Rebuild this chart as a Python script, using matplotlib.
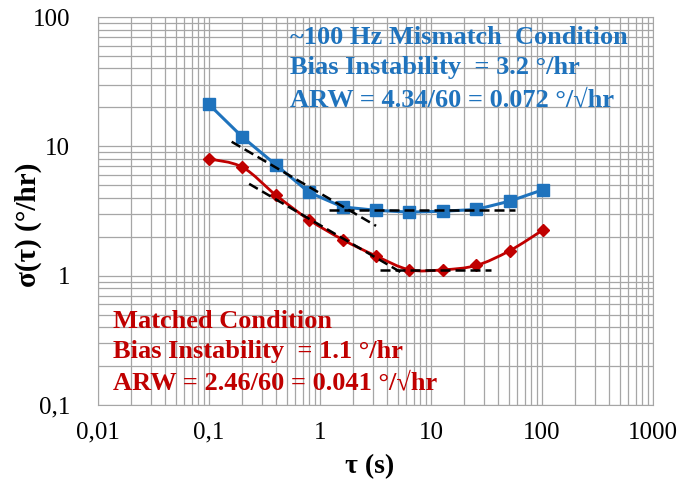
import numpy as np
import matplotlib.pyplot as plt
from matplotlib.path import Path
from matplotlib.patches import PathPatch
from matplotlib.ticker import FixedLocator, FixedFormatter, LogLocator, NullFormatter

plt.rcParams['font.family'] = ['Liberation Serif', 'DejaVu Serif']

# Allan deviation, tau in seconds, sigma in deg/hr
tau = [0.1, 0.2, 0.4, 0.8, 1.6, 3.2, 6.4, 12.8, 25.6, 51.2, 102.4]
sigma_mismatch = [21.1, 11.8, 7.2, 4.4, 3.4, 3.2, 3.1, 3.15, 3.25, 3.77, 4.62]
sigma_matched = [8.0, 6.9, 4.2, 2.7, 1.9, 1.42, 1.11, 1.11, 1.2, 1.56, 2.26]

# noise fits: ARW coefficient (deg/hr * sqrt(s)) and bias instability (deg/hr)
arw_mismatch, bi_mismatch = 4.34, 3.2
arw_matched, bi_matched = 2.46, 1.1
arw_span_mismatch = [0.16, 3.2]
bi_span_mismatch = [1.2, 57]
arw_span_matched = [0.23, 5.8]
bi_span_matched = [3.5, 35]

xticks = [0.01, 0.1, 1, 10, 100, 1000]
xticklabels = ['0,01', '0,1', '1', '10', '100', '1000']
yticks = [0.1, 1, 10, 100]
yticklabels = ['0,1', '1', '10', '100']

blue = '#1F73BD'
red = '#C00000'
grid_c = '#a6a6a6'


def smooth_path(x, y):
    # Catmull-Rom style bezier through the points, built in log space
    lx, ly = np.log10(x), np.log10(y)
    pts = np.column_stack([lx, ly])
    verts = [pts[0]]
    codes = [Path.MOVETO]
    n = len(pts)
    for i in range(n - 1):
        p0 = pts[max(i - 1, 0)]
        p1 = pts[i]
        p2 = pts[i + 1]
        p3 = pts[min(i + 2, n - 1)]
        c1 = p1 + (p2 - p0) / 6.0
        c2 = p2 - (p3 - p1) / 6.0
        verts += [c1, c2, p2]
        codes += [Path.CURVE4] * 3
    verts = 10 ** np.array(verts)
    return Path(verts, codes)


fig = plt.figure(figsize=(6.94, 4.79), dpi=100)
ax = fig.add_axes([0.1412, 0.1545, 0.7997, 0.810])
ax.set_xscale('log')
ax.set_yscale('log')
ax.set_xlim(0.01, 1000)
ax.set_ylim(0.1, 100)

# mismatch series
ax.plot(tau, sigma_mismatch, '-', color=blue, lw=2.2, marker='s', ms=8,
        zorder=4)

# matched series, smoothed line
ax.add_patch(PathPatch(smooth_path(tau, sigma_matched), fill=False,
                       edgecolor=red, lw=2.0, zorder=4))
ax.plot(tau, sigma_matched, 'D', color=red, ms=6, zorder=5)

# fitted noise lines
for a, span in [(arw_mismatch, arw_span_mismatch), (arw_matched, arw_span_matched)]:
    t = np.array(span)
    ax.plot(t, a / np.sqrt(t), '--', color='black', lw=1.8, dashes=(4, 2), zorder=6)
for b, span in [(bi_mismatch, bi_span_mismatch), (bi_matched, bi_span_matched)]:
    ax.plot(span, [b, b], '--', color='black', lw=1.8, dashes=(4, 2), zorder=6)

# grid and axes
ax.xaxis.set_major_locator(FixedLocator(xticks))
ax.xaxis.set_major_formatter(FixedFormatter(xticklabels))
ax.yaxis.set_major_locator(FixedLocator(yticks))
ax.yaxis.set_major_formatter(FixedFormatter(yticklabels))
ax.xaxis.set_minor_locator(LogLocator(base=10, subs=np.arange(2, 10)))
ax.yaxis.set_minor_locator(LogLocator(base=10, subs=np.arange(2, 10)))
ax.xaxis.set_minor_formatter(NullFormatter())
ax.yaxis.set_minor_formatter(NullFormatter())
ax.grid(True, which='both', color=grid_c, lw=0.9)
ax.set_axisbelow(True)
ax.tick_params(which='both', length=0, labelsize=18)
ax.tick_params(axis='y', pad=20)
ax.tick_params(axis='x', pad=12)
for s in ax.spines.values():
    s.set_color(grid_c)

ax.set_ylabel('σ(τ) (°/hr)', fontsize=21, fontweight='bold')
ax.set_xlabel('τ (s)', fontsize=20, fontweight='bold')
ax.yaxis.set_label_coords(-0.126, 0.464)
ax.xaxis.set_label_coords(0.49, -0.16)
ax.xaxis.label.set_va('center')
ax.yaxis.label.set_va('center')

txt = dict(transform=ax.transAxes, fontsize=19, fontweight='bold', va='center', ha='left')
ax.text(0.346, 0.946, '~100 Hz Mismatch  Condition', color=blue, **txt)
ax.text(0.346, 0.869, 'Bias Instability  = 3.2 °/hr', color=blue, **txt)
ax.text(0.346, 0.786, 'ARW = 4.34/60 = 0.072 °/√hr', color=blue, **txt)
ax.text(0.027, 0.214, 'Matched Condition', color=red, **txt)
ax.text(0.027, 0.137, 'Bias Instability  = 1.1 °/hr', color=red, **txt)
ax.text(0.027, 0.057, 'ARW = 2.46/60 = 0.041 °/√hr', color=red, **txt)

fig.savefig('out.png', dpi=100)
